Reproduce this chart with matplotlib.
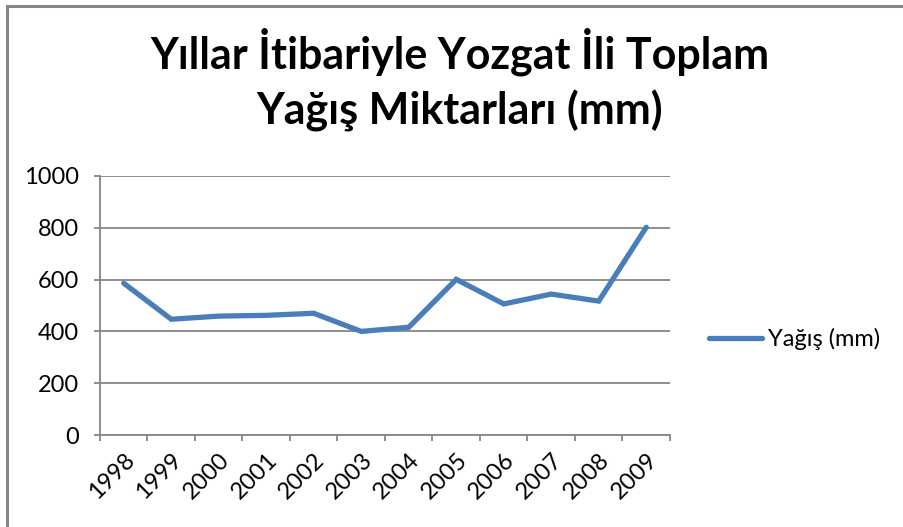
import matplotlib
matplotlib.use("Agg")
import matplotlib.pyplot as plt
from matplotlib.lines import Line2D
import numpy as np

years = ["1998", "1999", "2000", "2001", "2002", "2003", "2004", "2005", "2006", "2007", "2008", "2009"]
rainfall = [586, 447, 459, 462, 470, 400, 416, 601, 506, 544, 517, 802]
series_name = "Yağış (mm)"
title = "Yıllar İtibariyle Yozgat İli Toplam\nYağış Miktarları (mm)"
y_ticks = [0, 200, 400, 600, 800, 1000]

FONT = "Lato"
GRID = "#868686"
LINE = "#4a7ebb"
FS = 17

fig = plt.figure(figsize=(9.04, 5.27), dpi=100)
fig.patch.set_facecolor("white")

# chart-area border (top and left visible)
fig.add_artist(Line2D([7/904, 7/904], [0, 1 - 6/527], color=GRID, lw=2.2, transform=fig.transFigure))
fig.add_artist(Line2D([7/904, 1], [1 - 6/527, 1 - 6/527], color=GRID, lw=2.2, transform=fig.transFigure))

ax = fig.add_axes([100/904, (527-435)/527, 570/904, 259/527])
x = np.arange(len(years))
ax.plot(x, rainfall, color=LINE, lw=3.8, solid_joinstyle="miter", solid_capstyle="round", label=series_name)

ax.set_xlim(-0.5, len(years) - 0.5)
ax.set_ylim(0, 1000)
ax.set_yticks(y_ticks)
ax.set_yticklabels([str(v) for v in y_ticks], fontsize=FS, family=FONT)
ax.yaxis.grid(True, color=GRID, lw=1.3)
ax.set_axisbelow(True)

ax.set_xticks(np.arange(-0.5, len(years), 1.0))
ax.set_xticklabels([])
ax.set_xticks(x, minor=True)
ax.set_xticklabels(years, minor=True, rotation=45, ha="right", va="top",
                   rotation_mode="anchor", fontsize=FS, family=FONT)
ax.tick_params(axis="x", which="major", length=4.5, color=GRID, width=1.3, direction="out")
ax.tick_params(axis="x", which="minor", length=0, pad=10)
ax.tick_params(axis="y", length=4, color=GRID, width=1.3, direction="out", pad=11)

for s in ["top", "right"]:
    ax.spines[s].set_visible(False)
for s in ["left", "bottom"]:
    ax.spines[s].set_color(GRID)
    ax.spines[s].set_linewidth(1.3)

fig.text(460/904, 1 - 80/527, title, ha="center", va="center", fontsize=31,
         fontweight="bold", family=FONT, linespacing=1.4)

fig.legend(handles=ax.get_lines(), loc="center left", bbox_to_anchor=(709/904, 1 - 339/527),
           frameon=False, borderpad=0, borderaxespad=0, handlelength=2.25, handletextpad=0.25,
           prop={"family": FONT, "size": FS})

fig.savefig("out.png", dpi=100)
